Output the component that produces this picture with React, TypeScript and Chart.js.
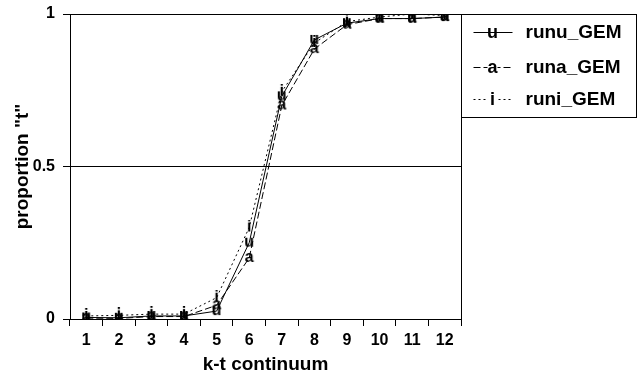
import React, { useEffect, useRef } from 'react';
import { Chart, registerables } from 'chart.js';

Chart.register(...registerables);

const categories = ['1', '2', '3', '4', '5', '6', '7', '8', '9', '10', '11', '12'];
const runuValues = [0.005, 0.004, 0.01, 0.01, 0.026, 0.25, 0.73, 0.915, 0.97, 0.985, 0.985, 0.99];
const runaValues = [0.003, 0.002, 0.008, 0.008, 0.045, 0.2, 0.7, 0.885, 0.965, 0.985, 0.985, 0.99];
const runiValues = [0.01, 0.012, 0.016, 0.016, 0.07, 0.3, 0.745, 0.905, 0.975, 0.99, 1.0, 0.995];
const seriesNames = ['runu_GEM', 'runa_GEM', 'runi_GEM'];
const markerLetters = ['u', 'a', 'i'];
const yTickValues = [0, 0.5, 1];

const FONT = 'Arial, "Liberation Sans", sans-serif';

function makeMarker(letter: string): HTMLCanvasElement {
  const c = document.createElement('canvas');
  c.width = 12;
  c.height = 16;
  const ctx = c.getContext('2d')!;
  ctx.fillStyle = '#000';
  ctx.font = `bold 16px ${FONT}`;
  ctx.textAlign = 'center';
  ctx.textBaseline = 'alphabetic';
  ctx.fillText(letter, 6, 12);
  return c;
}

const dashes: number[][] = [[], [7, 3], [2, 3]];

export default function App() {
  const ref = useRef<HTMLCanvasElement>(null);
  useEffect(() => {
    if (!ref.current) return;
    const markers = markerLetters.map(makeMarker);
    const values = [runuValues, runaValues, runiValues];
    const frame = {
      id: 'frame',
      afterDraw(chart: any) {
        const { ctx, chartArea } = chart;
        ctx.save();
        ctx.strokeStyle = '#000';
        ctx.lineWidth = 1;
        ctx.beginPath();
        ctx.moveTo(Math.round(chartArea.right) + 0.5, chartArea.top);
        ctx.lineTo(Math.round(chartArea.right) + 0.5, chartArea.bottom + 7);
        ctx.stroke();
        // legend
        const lx = Math.round(chartArea.right) + 0.5;
        const ly = 14.5;
        ctx.strokeRect(lx, ly, 175, 103);
        ctx.textBaseline = 'middle';
        const rows = [32, 67, 99];
        seriesNames.forEach((name, i) => {
          const y = rows[i];
          ctx.setLineDash(dashes[i]);
          ctx.beginPath();
          ctx.moveTo(lx + 12, y + 0.5);
          ctx.lineTo(lx + 51, y + 0.5);
          ctx.stroke();
          ctx.setLineDash([]);
          if (i > 0) {
            ctx.fillStyle = '#fff';
            ctx.fillRect(lx + 26, y - 6, 10, 12);
          }
          ctx.fillStyle = '#000';
          ctx.textAlign = 'center';
          ctx.font = `bold 18px ${FONT}`;
          ctx.fillText(markerLetters[i], lx + 31, y + 1);
          ctx.textAlign = 'left';
          ctx.font = `bold 19px ${FONT}`;
          ctx.fillText(name, lx + 64, y + 1);
        });
        ctx.restore();
      },
    };
    const chart = new Chart(ref.current, {
      type: 'line',
      data: {
        labels: categories,
        datasets: seriesNames.map((name, i) => ({
          label: name,
          data: values[i],
          borderColor: '#000',
          backgroundColor: '#000',
          borderWidth: 1,
          borderDash: dashes[i],
          tension: 0,
          fill: false,
          pointStyle: markers[i] as any,
          pointRadius: 6,
        })),
      },
      options: {
        animation: false,
        responsive: false,
        maintainAspectRatio: false,
        layout: { padding: { left: 0, right: 181, top: 14, bottom: 0 } },
        plugins: { legend: { display: false }, tooltip: { enabled: false } },
        scales: {
          x: {
            type: 'category',
            offset: true,
            grid: { offset: true, drawOnChartArea: false, drawTicks: true, tickLength: 7, color: '#000', lineWidth: 1 },
            border: { display: true, color: '#000', width: 1 },
            ticks: { color: '#000', font: { family: FONT, size: 16, weight: 'bold' }, padding: 5, maxRotation: 0, autoSkip: false },
            title: { display: true, text: 'k-t continuum', color: '#000', font: { family: FONT, size: 19, weight: 'bold' }, padding: { top: 0, bottom: 6 } },
            afterFit: (s: any) => { s.height = 63; s.paddingLeft = 0; s.paddingRight = 0; },
          },
          y: {
            min: 0,
            max: 1,
            afterBuildTicks: (s: any) => { s.ticks = yTickValues.map((v) => ({ value: v })); },
            ticks: { color: '#000', font: { family: FONT, size: 16, weight: 'bold' }, padding: 8, callback: (v: any) => String(v) },
            grid: { color: '#000', lineWidth: 1, tickLength: 7, drawTicks: true },
            border: { display: true, color: '#000', width: 1 },
            title: { display: true, text: 'proportion "t"', color: '#000', font: { family: FONT, size: 19, weight: 'bold' }, padding: { top: 11, bottom: 0 } },
            afterFit: (s: any) => { s.width = 70; s.paddingTop = 0; s.paddingBottom = 0; },
          },
        },
      },
      plugins: [frame],
    });
    return () => chart.destroy();
  }, []);
  return (
    <div style={{ position: 'fixed', left: 0, top: 0, width: 642, height: 382, background: '#fff' }}>
      <canvas ref={ref} width={642} height={382} style={{ width: 642, height: 382, display: 'block' }} />
    </div>
  );
}
